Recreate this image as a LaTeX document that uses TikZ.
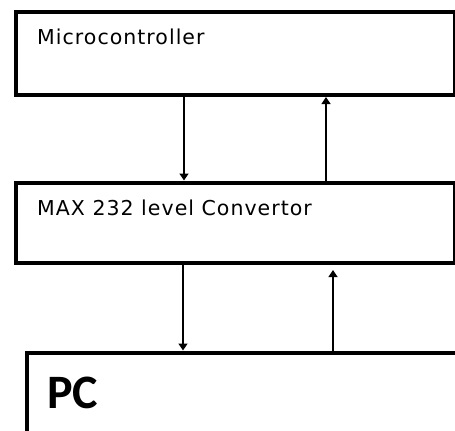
\documentclass[tikz,border=0pt]{standalone}
\usepackage{fontspec}
\setmainfont{DejaVu Sans}
\newfontfamily\smallfont[LetterSpace=5]{DejaVu Sans}
\newfontfamily\pcfont{Carlito}
\usetikzlibrary{arrows.meta,calc}
\begin{document}
\begin{tikzpicture}[x=1bp,y=-1bp,
  blockbox/.style={draw=black,line width=4.5bp,fill=white,inner sep=0pt,anchor=north west,rectangle},
  arr/.style={draw=black,line width=1.3bp,-{Triangle[width=9bp,length=7bp]}},
  lbl/.style={anchor=base west,inner sep=0pt,font=\smallfont\fontsize{20.5bp}{24bp}\selectfont}]
\useasboundingbox (0,0) rectangle (455,430);
\clip (0,0) rectangle (455,430);
\fill[white] (0,0) rectangle (455,430);
\node[blockbox,minimum width=439bp,minimum height=83bp] (mc) at (13.5,9.5) {};
\node[blockbox,minimum width=439bp,minimum height=80bp] (mx) at (13.5,180.5) {};
\node[blockbox,minimum width=500bp,minimum height=120bp] (pc) at (24.5,350.5) {};
\node[lbl] (t1) at (37,44.5) {Microcontroller};
\node[lbl] (t2) at (37,215.5) {MAX 232 level Convertor};
\node[anchor=base west,inner sep=0pt,font=\pcfont\bfseries\fontsize{48bp}{50bp}\selectfont] (t3) at (47,408) {PC};
\coordinate (xa) at (184,0);
\coordinate (xb) at (326,0);
\coordinate (xc) at (183,0);
\coordinate (xd) at (333,0);
\coordinate (endd) at (333,270);
\draw[arr] (mc.south -| xa) -- (mx.north -| xa);
\draw[arr] (mx.north -| xb) -- (mc.south -| xb);
\draw[arr] (mx.south -| xc) -- (pc.north -| xc);
\draw[arr] (pc.north -| xd) -- (endd);
\end{tikzpicture}
\end{document}
